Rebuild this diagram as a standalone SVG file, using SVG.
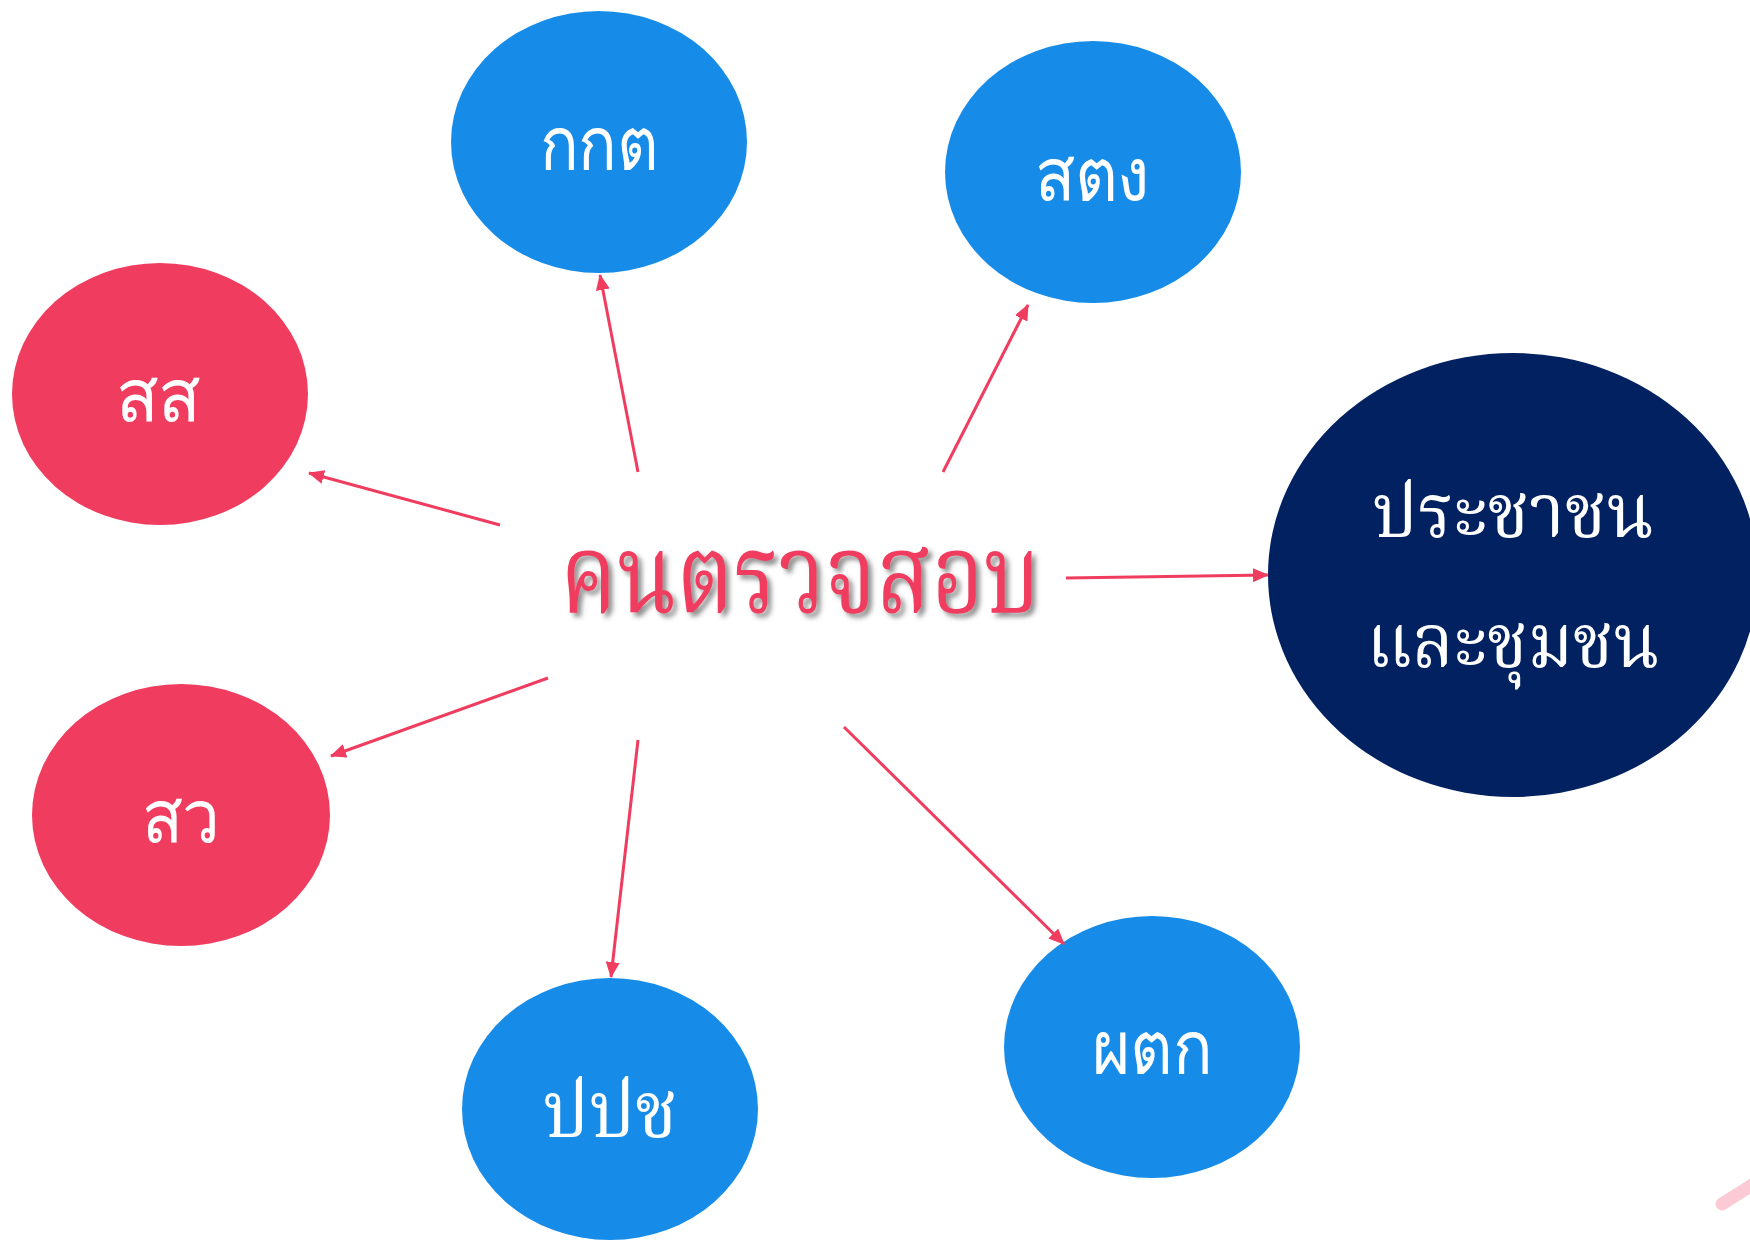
<svg xmlns="http://www.w3.org/2000/svg" width="1750" height="1240" viewBox="0 0 1750 1240">
<defs>
<style>
.blue{fill:#168CE8}
.pink{fill:#F03C5F}
.navy{fill:#022160}
.lbl{fill:#FFFFFF;font-family:"Noto Sans","DejaVu Sans",sans-serif;font-size:76px;text-anchor:middle}
.big{fill:#FFFFFF;font-family:"Noto Serif Thai","Norasi","Laksaman","Liberation Serif","DejaVu Serif",serif;font-size:75px;text-anchor:middle}
.title{fill:#F03C5F;font-family:"Noto Serif Thai","Norasi","Laksaman","Liberation Serif","DejaVu Serif",serif;font-size:110px;text-anchor:middle}
.conn line{stroke:#F03C5F;stroke-width:3;fill:none}
</style>
<marker id="ah" markerUnits="userSpaceOnUse" markerWidth="16" markerHeight="14" refX="15" refY="7" orient="auto">
<path d="M0,0 L16,7 L0,14 z" fill="#F03C5F"/>
</marker>
<filter id="sh" x="-10%" y="-20%" width="130%" height="150%">
<feDropShadow dx="4" dy="4" stdDeviation="2.5" flood-color="#666666" flood-opacity="0.75"/>
</filter>
</defs>
<rect width="1750" height="1240" fill="#FFFFFF"/>
<g id="n-kkt"><ellipse class="blue" cx="599" cy="142" rx="148" ry="131"/><text class="lbl" x="599" y="170" textLength="119" lengthAdjust="spacingAndGlyphs">กกต</text></g>
<g id="n-stg"><ellipse class="blue" cx="1093" cy="172" rx="148" ry="131"/><text class="lbl" x="1092" y="201" textLength="115" lengthAdjust="spacingAndGlyphs">สตง</text></g>
<g id="n-ss"><ellipse class="pink" cx="160" cy="394" rx="148" ry="131"/><text class="lbl" x="158" y="422" textLength="85" lengthAdjust="spacingAndGlyphs">สส</text></g>
<g id="n-sw"><ellipse class="pink" cx="181" cy="815" rx="149" ry="131"/><text class="lbl" x="181" y="843" textLength="79" lengthAdjust="spacingAndGlyphs">สว</text></g>
<g id="n-ppc"><ellipse class="blue" cx="610" cy="1109" rx="148" ry="131"/><text class="big" x="610" y="1137" style="font-size:78px" textLength="135" lengthAdjust="spacingAndGlyphs">ปปช</text></g>
<g id="n-ptk"><ellipse class="blue" cx="1152" cy="1047" rx="148" ry="131"/><text class="lbl" x="1152" y="1074" textLength="121" lengthAdjust="spacingAndGlyphs">ผตก</text></g>
<g id="n-people"><ellipse class="navy" cx="1513" cy="575" rx="245" ry="222"/><text class="big" x="1513" y="537" textLength="282" lengthAdjust="spacingAndGlyphs">ประชาชน</text><text class="big" x="1513" y="667" textLength="293" lengthAdjust="spacingAndGlyphs">และชุมชน</text></g>
<g id="n-center"><text class="title" x="800" y="612" filter="url(#sh)" textLength="480" lengthAdjust="spacingAndGlyphs">คนตรวจสอบ</text></g>
<g id="connectors" class="conn">
<line x1="638" y1="472" x2="600" y2="275" marker-end="url(#ah)"/>
<line x1="943" y1="472" x2="1028" y2="305" marker-end="url(#ah)"/>
<line x1="500" y1="525" x2="309" y2="473" marker-end="url(#ah)"/>
<line x1="1066" y1="578" x2="1268" y2="575" marker-end="url(#ah)"/>
<line x1="548" y1="678" x2="331" y2="756" marker-end="url(#ah)"/>
<line x1="638" y1="740" x2="611" y2="977" marker-end="url(#ah)"/>
<line x1="844" y1="727" x2="1064" y2="944" marker-end="url(#ah)"/>
</g>
<line x1="1722" y1="1204" x2="1765" y2="1177" stroke="#FBCAD4" stroke-width="13" stroke-linecap="round"/>
</svg>
